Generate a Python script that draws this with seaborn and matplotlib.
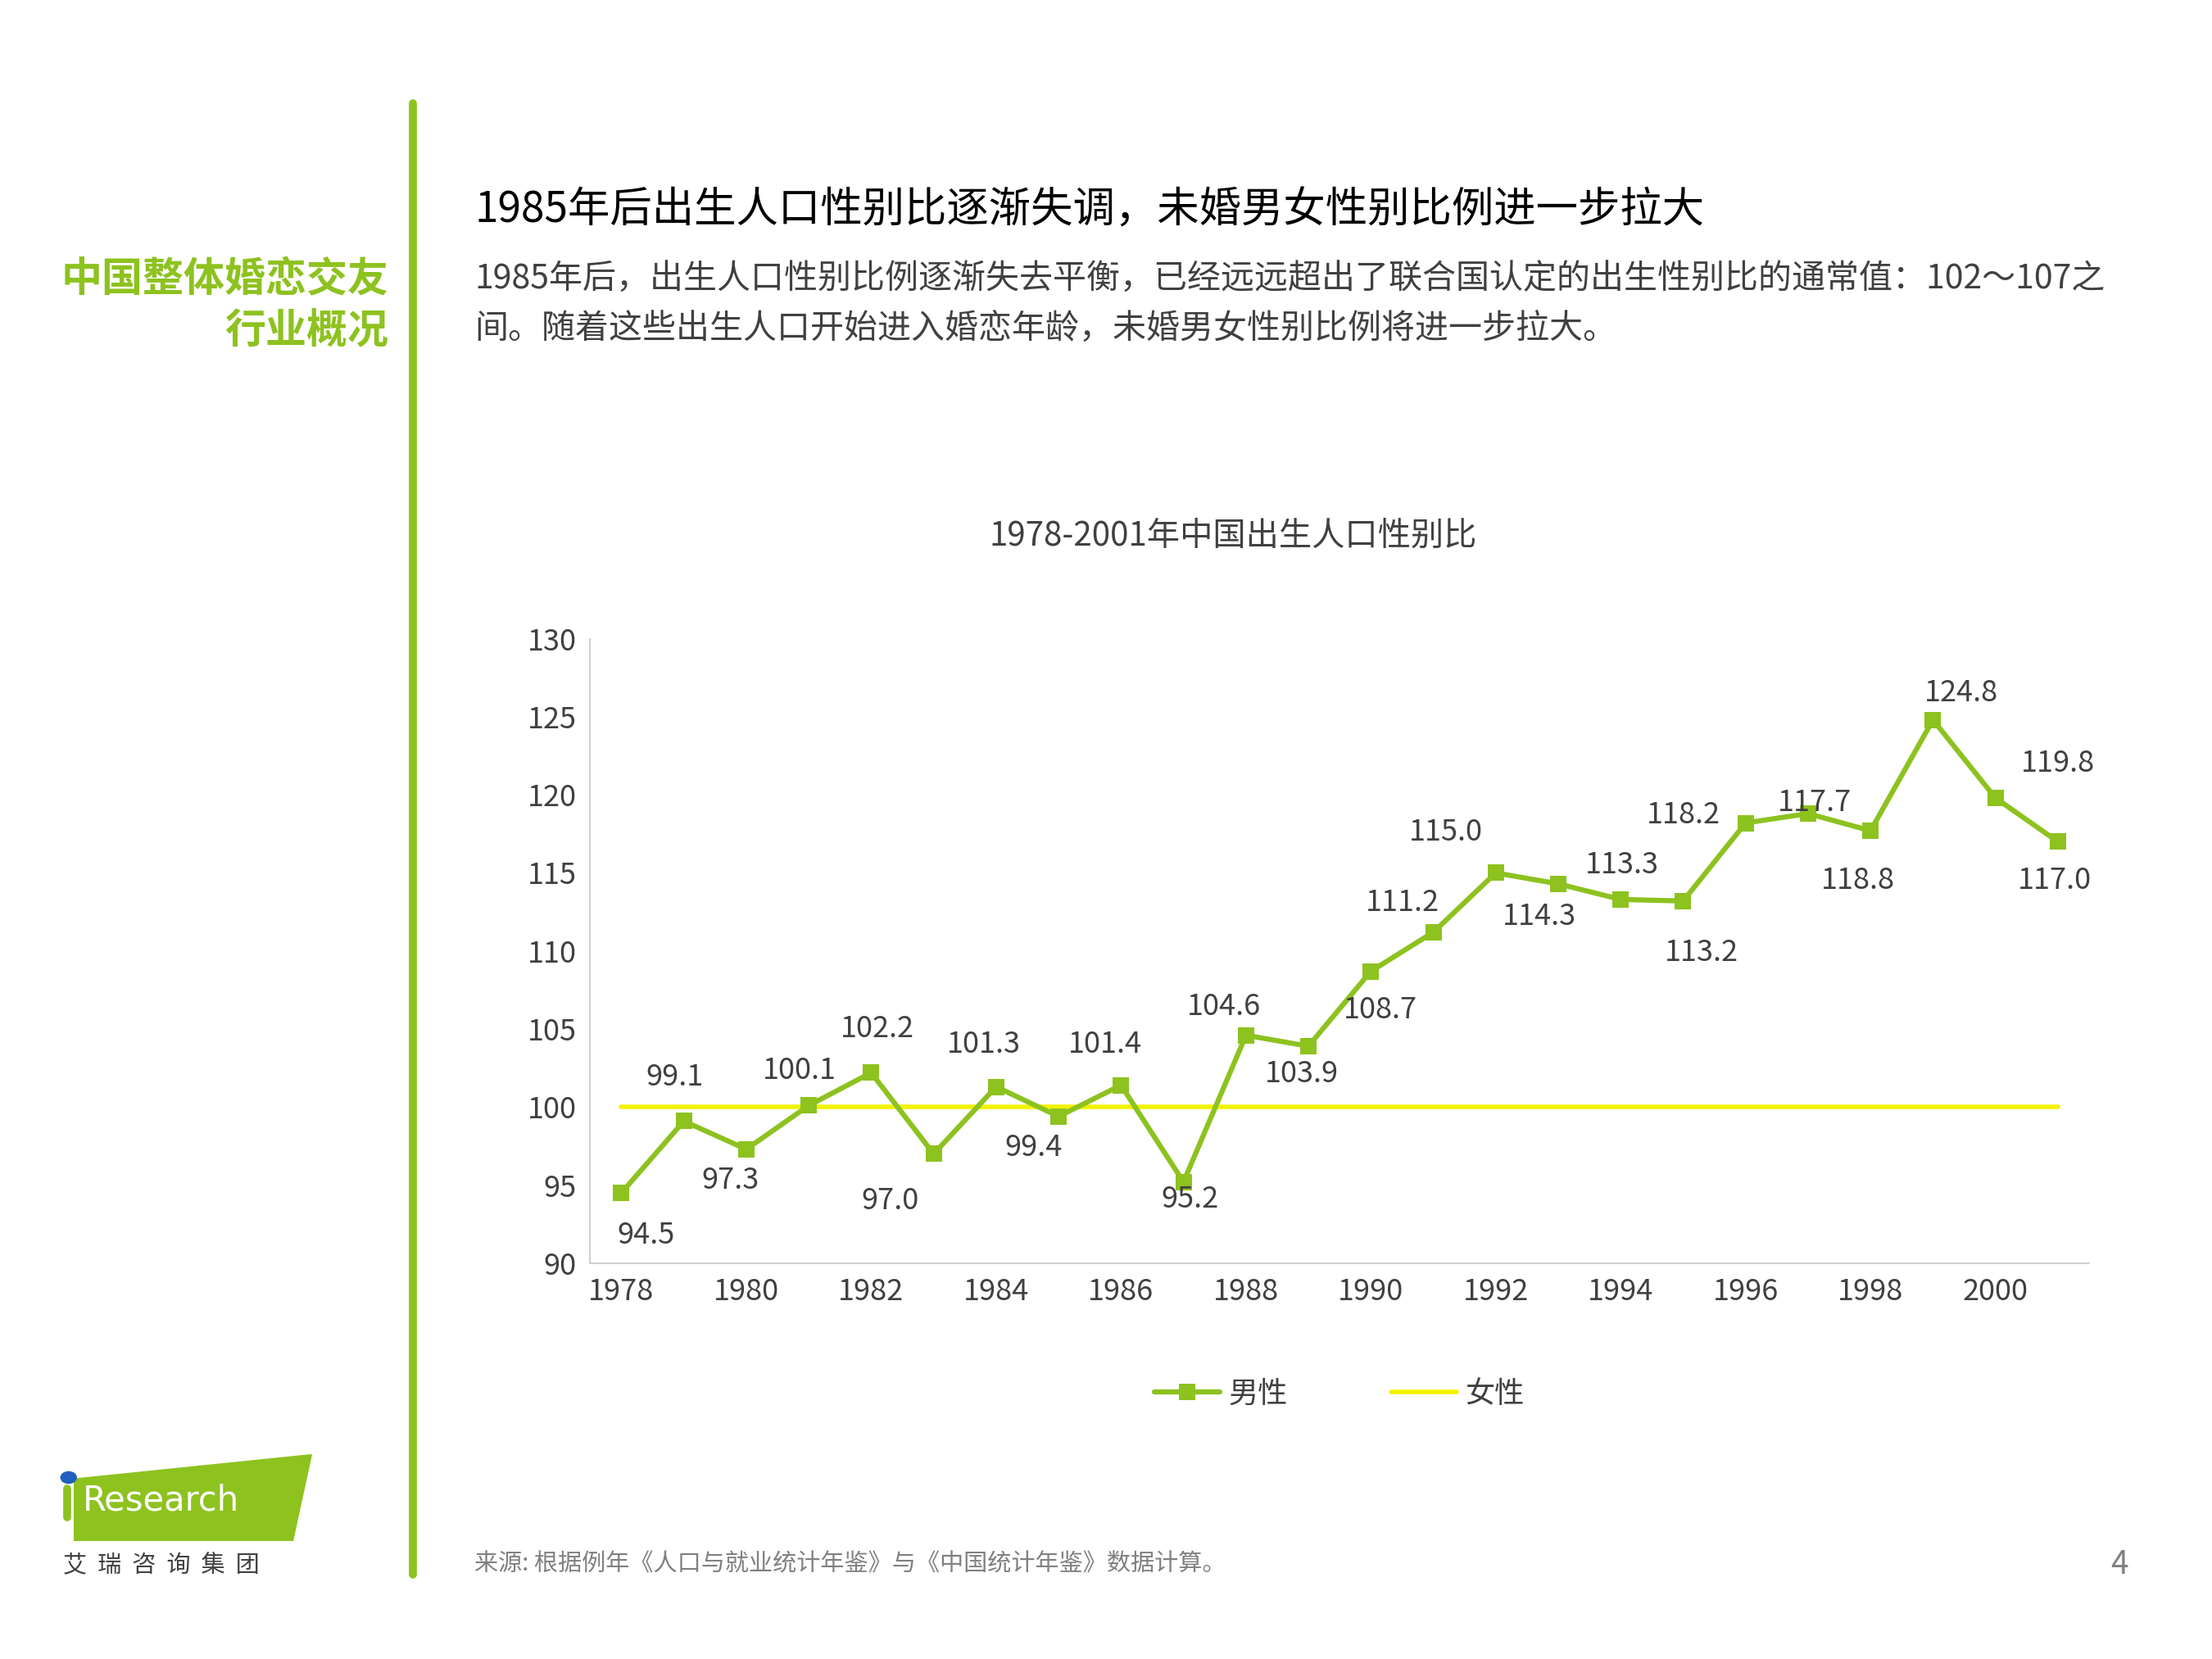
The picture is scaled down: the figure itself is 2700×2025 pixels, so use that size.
import matplotlib
matplotlib.use("Agg")
import matplotlib.pyplot as plt
import seaborn as sns
import pandas as pd
from matplotlib.patches import Polygon, Circle

sns.set_theme(style="white")
plt.rcParams['font.family'] = ['Noto Sans CJK SC', 'DejaVu Sans']

years = list(range(1978, 2002))
male = [94.5, 99.1, 97.3, 100.1, 102.2, 97.0, 101.3, 99.4, 101.4, 95.2, 104.6, 103.9,
        108.7, 111.2, 115.0, 114.3, 113.3, 113.2, 118.2, 118.8, 117.7, 124.8, 119.8, 117.0]
female = [100.0] * len(years)
label_texts = ["94.5", "99.1", "97.3", "100.1", "102.2", "97.0", "101.3", "99.4", "101.4", "95.2",
               "104.6", "103.9", "108.7", "111.2", "115.0", "114.3", "113.3", "113.2", "118.2",
               "117.7", "118.8", "124.8", "119.8", "117.0"]
# label offsets (dx years, dy value units)
offs = [(0.4, -2.7), (-0.15, 2.8), (-0.25, -2.0), (-0.15, 2.2), (0.1, 2.8), (-0.7, -3.0),
        (-0.2, 2.7), (-0.4, -2.0), (-0.25, 2.6), (0.1, -1.1), (-0.35, 1.8), (-0.1, -1.8),
        (0.15, -2.5), (-0.5, 1.9), (-0.8, 2.6), (-0.3, -2.1), (0.02, 2.2), (0.3, -3.3),
        (-1.0, 0.5), (0.1, 0.7), (-0.2, -3.2), (0.45, 1.7), (1.0, 2.2), (-0.05, -2.5)]

GREEN = "#8DC21F"
YELLOW = "#F2F200"
GRAY = "#404040"

df = pd.DataFrame({"year": years, "男性": male, "女性": female})

fig = plt.figure(figsize=(27, 20.25), dpi=100)
W, H = 1548, 1161
def fx(x): return x / W
def fy(y): return 1 - y / H

ax = fig.add_axes([fx(413), fy(884), fx(1462) - fx(413), fy(447) - fy(884)])
sns.lineplot(data=df, x="year", y="女性", ax=ax, color=YELLOW, lw=4, label="女性")
sns.lineplot(data=df, x="year", y="男性", ax=ax, color=GREEN, lw=4.5, marker="s",
             markersize=14, markeredgewidth=0, label="男性")
for x, v, t, (dx, dy) in zip(years, male, label_texts, offs):
    ax.text(x + dx, v + dy, t, ha="center", va="center", fontsize=26, color=GRAY)

ax.set_xlim(1977.5, 2001.5)
ax.set_ylim(90, 130)
ax.set_xticks(list(range(1978, 2001, 2)))
ax.set_yticks(list(range(90, 131, 5)))
ax.tick_params(labelsize=26, colors=GRAY, length=0, pad=12)
ax.set_xlabel("")
ax.set_ylabel("")
for s in ["top", "right"]:
    ax.spines[s].set_visible(False)
for s in ["left", "bottom"]:
    ax.spines[s].set_color("#D0D0D0")
    ax.spines[s].set_linewidth(1.5)

h, l = ax.get_legend_handles_labels()
order = [l.index("男性"), l.index("女性")]
ax.legend([h[i] for i in order], [l[i] for i in order], loc="center",
          bbox_to_anchor=(0.5, -0.21), ncol=2, frameon=False, fontsize=26,
          handlelength=2.2, handletextpad=0.3, columnspacing=3.5, labelcolor=GRAY)

fig.text(fx(863), fy(375), "1978-2001年中国出生人口性别比", ha="center", va="center",
         fontsize=29, color=GRAY, fontweight="medium")
fig.text(fx(332), fy(147), "1985年后出生人口性别比逐渐失调，未婚男女性别比例进一步拉大",
         ha="left", va="center", fontsize=37, color="black", fontweight="medium")
fig.text(fx(332), fy(195), "1985年后，出生人口性别比例逐渐失去平衡，已经远远超出了联合国认定的出生性别比的通常值：102～107之",
         ha="left", va="center", fontsize=29.5, color=GRAY, fontweight="light")
fig.text(fx(332), fy(230), "间。随着这些出生人口开始进入婚恋年龄，未婚男女性别比例将进一步拉大。",
         ha="left", va="center", fontsize=29.5, color=GRAY, fontweight="light")
fig.text(fx(272), fy(196), "中国整体婚恋交友", ha="right", va="center", fontsize=36,
         color=GREEN, fontweight="bold")
fig.text(fx(272), fy(232), "行业概况", ha="right", va="center", fontsize=36,
         color=GREEN, fontweight="bold")
fig.text(fx(332), fy(1095), "来源: 根据例年《人口与就业统计年鉴》与《中国统计年鉴》数据计算。",
         ha="left", va="center", fontsize=21, color="#808080")
fig.text(fx(1483), fy(1095), "4", ha="center", va="center", fontsize=28, color="#808080")

# left vertical bar
fig.add_artist(plt.Line2D([fx(289), fx(289)], [fy(72), fy(1102)], color=GREEN, lw=7))

# logo
fig.add_artist(Polygon([(fx(52), fy(1078)), (fx(205), fy(1078)), (fx(218), fy(1018)), (fx(52), fy(1035))],
                       closed=True, color=GREEN, transform=fig.transFigure))
fig.add_artist(Circle((fx(48), fy(1034)), 0.0035, color="#1F5FBF", transform=fig.transFigure))
fig.add_artist(plt.Line2D([fx(47), fx(47)], [fy(1042), fy(1062)], color=GREEN, lw=7))
fig.text(fx(58), fy(1050), "Research", ha="left", va="center", fontsize=30, color="white",
         family=['DejaVu Sans'])
fig.text(fx(44), fy(1095), "艾  瑞  咨  询  集  团", ha="left", va="center", fontsize=21, color=GRAY)

fig.savefig("out.png", dpi=100, facecolor="white")
